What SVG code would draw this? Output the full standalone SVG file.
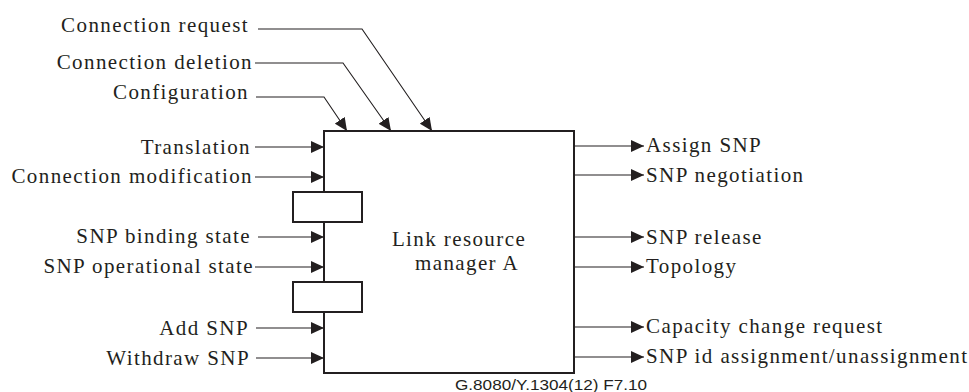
<svg xmlns="http://www.w3.org/2000/svg" width="969" height="392" viewBox="0 0 969 392">
<style>
.t{font-family:"Liberation Serif","Times New Roman",serif;font-size:21px;fill:#231f20;letter-spacing:1.4px}
.e{text-anchor:end}
.c{text-anchor:middle}
.ln{fill:none;stroke:#231f20;stroke-width:1.1}
.bx{fill:#fff;stroke:#231f20;stroke-width:2}
.f{font-family:"Liberation Sans",Arial,sans-serif;font-size:14px;fill:#231f20}
</style>
<defs>
<marker id="ah" markerUnits="userSpaceOnUse" markerWidth="14" markerHeight="12" refX="13" refY="6" orient="auto">
<path d="M0,0 L13,6 L0,12 Z" fill="#231f20"/>
</marker>
</defs>
<g id="lrm">
<rect class="bx" x="324" y="131" width="250" height="242"/>
<rect class="bx" x="293" y="192" width="69" height="30"/>
<rect class="bx" x="293" y="282" width="69" height="30"/>
<text class="t c" x="459" y="246">Link resource</text>
<text class="t c" x="467" y="270">manager A</text>
</g>
<g id="connectors">
<polyline class="ln" points="258,29 362,29 432,131" marker-end="url(#ah)"/>
<polyline class="ln" points="255,63 343,63 391,131" marker-end="url(#ah)"/>
<polyline class="ln" points="256,97 324,97 347,131" marker-end="url(#ah)"/>
<line class="ln" x1="255" y1="147" x2="324" y2="147" marker-end="url(#ah)"/>
<line class="ln" x1="255" y1="177" x2="324" y2="177" marker-end="url(#ah)"/>
<line class="ln" x1="258" y1="237" x2="324" y2="237" marker-end="url(#ah)"/>
<line class="ln" x1="255" y1="267" x2="324" y2="267" marker-end="url(#ah)"/>
<line class="ln" x1="256" y1="328" x2="324" y2="328" marker-end="url(#ah)"/>
<line class="ln" x1="256" y1="358" x2="324" y2="358" marker-end="url(#ah)"/>
<line class="ln" x1="574" y1="146" x2="644" y2="146" marker-end="url(#ah)"/>
<line class="ln" x1="574" y1="175" x2="644" y2="175" marker-end="url(#ah)"/>
<line class="ln" x1="574" y1="237" x2="644" y2="237" marker-end="url(#ah)"/>
<line class="ln" x1="574" y1="267" x2="644" y2="267" marker-end="url(#ah)"/>
<line class="ln" x1="574" y1="327" x2="644" y2="327" marker-end="url(#ah)"/>
<line class="ln" x1="574" y1="357" x2="644" y2="357" marker-end="url(#ah)"/>
</g>
<g id="labels-in">
<text class="t e" x="249" y="32">Connection request</text>
<text class="t e" x="253" y="69">Connection deletion</text>
<text class="t e" x="249" y="99">Configuration</text>
<text class="t e" x="251" y="154">Translation</text>
<text class="t e" x="253" y="183">Connection modification</text>
<text class="t e" x="251" y="243">SNP binding state</text>
<text class="t e" x="254" y="273">SNP operational state</text>
<text class="t e" x="249" y="335">Add SNP</text>
<text class="t e" x="250" y="365">Withdraw SNP</text>
</g>
<g id="labels-out">
<text class="t" x="646" y="152">Assign SNP</text>
<text class="t" x="646" y="182">SNP negotiation</text>
<text class="t" x="646" y="244">SNP release</text>
<text class="t" x="646" y="273">Topology</text>
<text class="t" x="646" y="333">Capacity change request</text>
<text class="t" x="646" y="363">SNP id assignment/unassignment</text>
</g>
<text class="f" x="455" y="390" textLength="192" lengthAdjust="spacingAndGlyphs">G.8080/Y.1304(12)  F7.10</text>
</svg>
